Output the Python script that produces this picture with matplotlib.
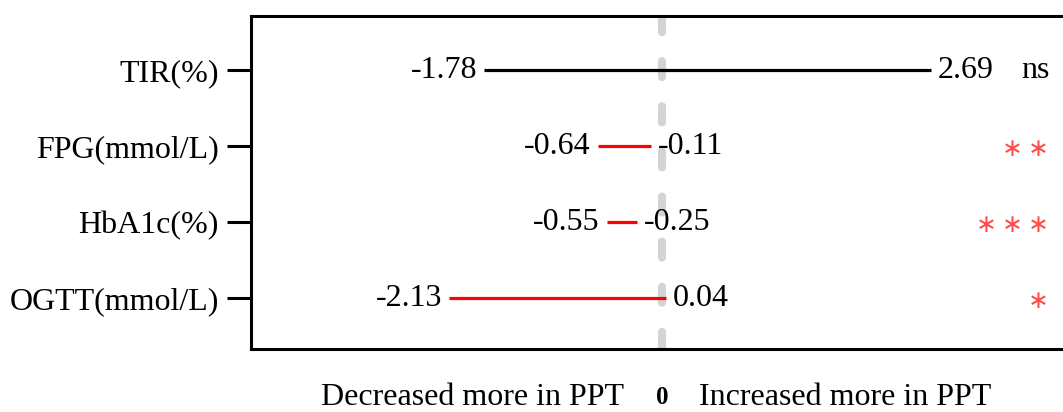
import matplotlib.pyplot as plt

plt.rcParams['font.family'] = ['Liberation Serif', 'DejaVu Serif']

measures = ['TIR(%)', 'FPG(mmol/L)', 'HbA1c(%)', 'OGTT(mmol/L)']
lower = [-1.78, -0.64, -0.55, -2.13]
upper = [2.69, -0.11, -0.25, 0.04]
signif = ['ns', '**', '***', '*']
line_colors = ['black', 'red', 'red', 'red']

fig = plt.figure(figsize=(10.63, 4.12), dpi=100)
ax = fig.add_axes([0.236, 0.153, 0.78, 0.808])

rows = list(range(len(measures)))

# zero reference line
ax.plot([0, 0], [-0.71, 3.67], color='#d4d4d4', lw=5.8,
        linestyle=(0, (2.0, 3.6)), dash_capstyle='round', zorder=1)

for i, lo, hi, c in zip(rows, lower, upper, line_colors):
    ax.plot([lo, hi], [i, i], color=c, lw=2.3, solid_capstyle='butt', zorder=2)
    ax.annotate(f'{lo:.2f}', xy=(lo, i), xytext=(-5, 0), textcoords='offset points',
                ha='right', va='center', fontsize=23, zorder=3)
    ax.annotate(f'{hi:.2f}', xy=(hi, i), xytext=(5, 0), textcoords='offset points',
                ha='left', va='center', fontsize=23, zorder=3)

# significance marks on the right
for i, s in zip(rows, signif):
    if s == 'ns':
        ax.text(0.963, i, s, transform=ax.get_yaxis_transform(), ha='right',
                va='center', fontsize=23)
    else:
        ax.text(0.962, i + 0.04, '\u2009'.join(['\u2217'] * len(s)),
                transform=ax.get_yaxis_transform(),
                ha='right', va='center', fontsize=18, color='#ff4a4a',
                family=['DejaVu Sans'])

s = 100.0
ax.set_xlim(-411 / s, 418 / s)
ax.set_ylim(3.67, -0.71)
ax.set_yticks(rows)
ax.set_yticklabels(measures, fontsize=23)
ax.set_xticks([])
ax.tick_params(axis='y', length=17, width=2.2, pad=6, direction='out')
for side in ['left', 'top', 'bottom']:
    ax.spines[side].set_linewidth(2.2)
ax.spines['right'].set_visible(False)

# direction labels under the axis
ax.annotate('0', xy=(0, -0.145), xycoords=('data', 'axes fraction'),
            ha='center', va='center', fontsize=18, fontweight='bold')
ax.annotate('Decreased more in PPT', xy=(0, -0.145), xycoords=('data', 'axes fraction'),
            xytext=(-27, 0), textcoords='offset points',
            ha='right', va='center', fontsize=23)
ax.annotate('Increased more in PPT', xy=(0, -0.145), xycoords=('data', 'axes fraction'),
            xytext=(27, 0), textcoords='offset points',
            ha='left', va='center', fontsize=23)

fig.savefig('out.png', dpi=100)
